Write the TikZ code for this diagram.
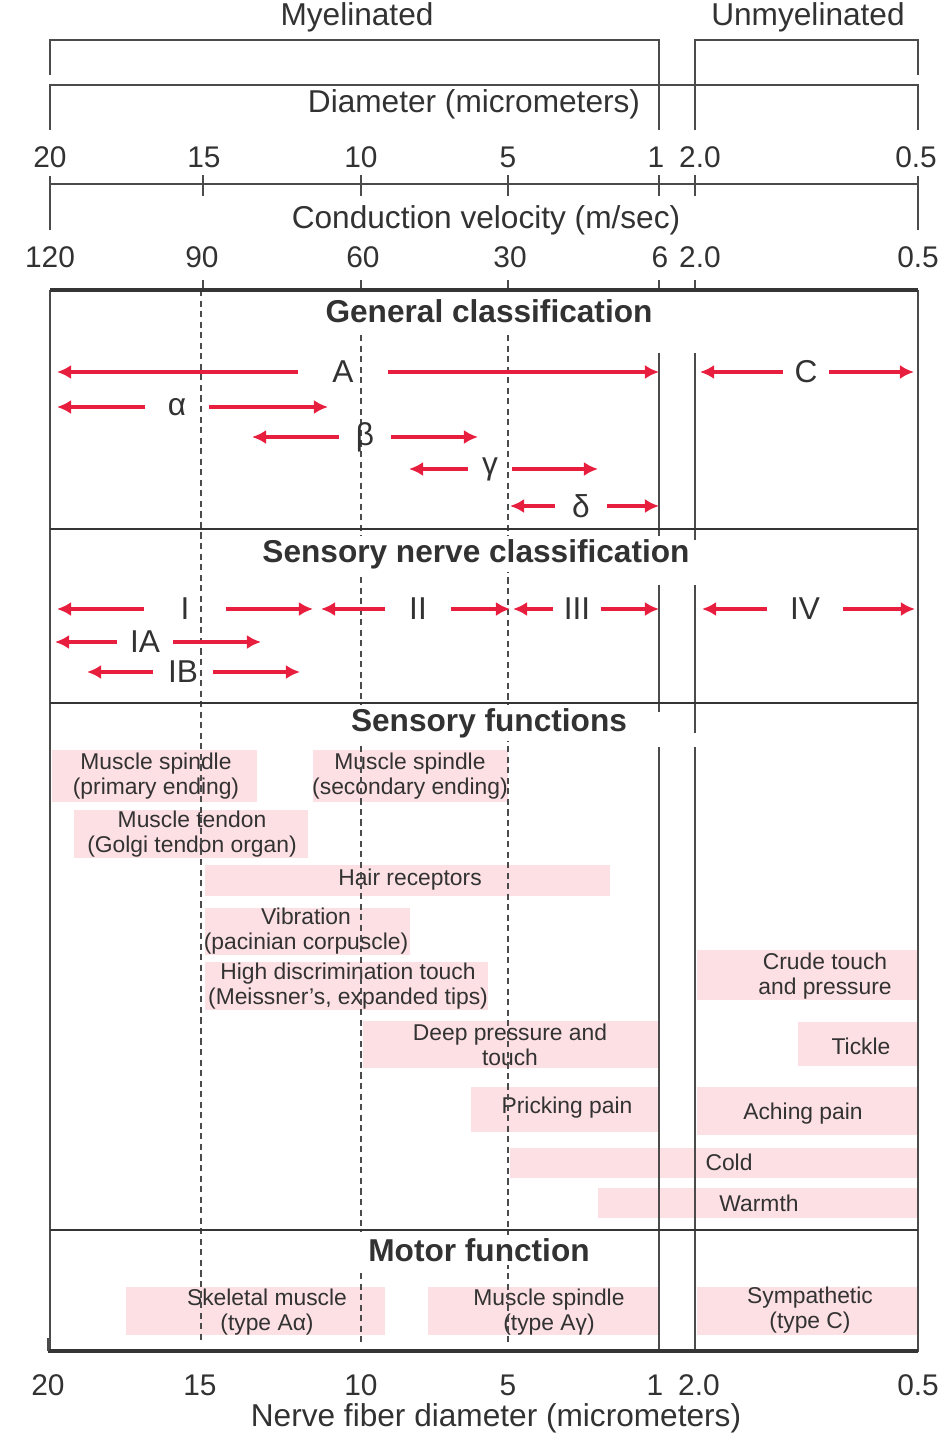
\documentclass[tikz,border=0pt]{standalone}
\usepackage{fontspec}
\setmainfont{Liberation Sans}
\usetikzlibrary{arrows.meta}

\definecolor{ink}{RGB}{50,50,50}
\definecolor{rulegray}{RGB}{75,75,75}
\definecolor{nerveRed}{RGB}{232,30,62}
\definecolor{pinkfill}{RGB}{252,224,228}

\tikzset{
  hdr/.style={text=ink, font=\fontsize{18}{20}\selectfont},
  num/.style={text=ink, font=\fontsize{17}{19}\selectfont},
  sectitle/.style={text=ink, fill=white, inner sep=2pt, font=\bfseries\fontsize{18}{20}\selectfont},
  fibre/.style={text=ink, inner sep=0pt, font=\fontsize{18}{20}\selectfont},
  func/.style={text=ink, align=center, inner sep=0pt, font=\fontsize{13}{14.2}\selectfont},
  pinkbar/.style={fill=pinkfill},
  redarrow/.style={draw=nerveRed, line width=2pt, -{Latex[length=8pt,width=8pt]}},
  fence/.style={draw=rulegray, line width=0.8pt},
  divider/.style={draw=rulegray!70!black, line width=1.4pt},
  guide/.style={draw=rulegray, line width=0.7pt, dash pattern=on 3.5pt off 2.5pt},
}

\begin{document}
\begin{tikzpicture}[x=0.02cm, y=-0.02cm]
\useasboundingbox (0,0) rectangle (948,1440);

% header brackets
\node[hdr] (myel) at (357,17) {Myelinated};
\node[hdr] (unmyel) at (808,17) {Unmyelinated};
\draw[fence] (50,75) -- (50,40) -- (659,40) -- (659,130);
\draw[fence] (695,130) -- (695,40) -- (918,40) -- (918,75);
\draw[fence] (50,130) -- (50,85) -- (918,85) -- (918,130);
\node[hdr] (diam) at (474,104) {Diameter (micrometers)};

% diameter scale
\node[num] (d20) at (50,157) {20};
\node[num] (d15) at (204,157) {15};
\node[num] (d10) at (361,157) {10};
\node[num] (d5) at (508,157) {5};
\node[num] (d1) at (656,157) {1};
\node[num] (d2) at (700,157) {2.0};
\node[num] (d05) at (916,157) {0.5};
\draw[fence] (50,184) -- (918,184);
\draw[fence] (50,176) -- (50,230);
\draw[fence] (918,176) -- (918,230);
\draw[fence] (203,175) -- (203,196);
\draw[fence] (361,175) -- (361,196);
\draw[fence] (508,175) -- (508,196);
\draw[fence] (659,175) -- (659,196);
\draw[fence] (695,175) -- (695,196);

% velocity scale
\node[hdr] (velo) at (486,220) {Conduction velocity (m/sec)};
\node[num] (v120) at (50,257) {120};
\node[num] (v90) at (202,257) {90};
\node[num] (v60) at (363,257) {60};
\node[num] (v30) at (510,257) {30};
\node[num] (v6) at (660,257) {6};
\node[num] (v2) at (700,257) {2.0};
\node[num] (v05) at (918,257) {0.5};
\draw[fence] (203,280) -- (203,290);
\draw[fence] (361,280) -- (361,290);
\draw[fence] (508,280) -- (508,290);
\draw[fence] (659,280) -- (659,290);
\draw[fence] (695,280) -- (695,290);

% pink bars
\fill[pinkbar] (52,750) rectangle (257,802);
\fill[pinkbar] (313,750) rectangle (508,802);
\fill[pinkbar] (74,810) rectangle (308,858);
\fill[pinkbar] (205,865) rectangle (610,896);
\fill[pinkbar] (205,908) rectangle (410,955);
\fill[pinkbar] (205,962) rectangle (488,1010);
\fill[pinkbar] (363,1021) rectangle (658,1068);
\fill[pinkbar] (471,1087) rectangle (658,1132);
\fill[pinkbar] (697,950) rectangle (918,1000);
\fill[pinkbar] (798,1022) rectangle (918,1066);
\fill[pinkbar] (697,1087) rectangle (918,1135);
\fill[pinkbar] (510,1148) rectangle (918,1178);
\fill[pinkbar] (598,1188) rectangle (918,1218);
\fill[pinkbar] (126,1287) rectangle (385,1335);
\fill[pinkbar] (428,1287) rectangle (658,1335);
\fill[pinkbar] (697,1287) rectangle (918,1335);

\node[func] (spindleP) at (156,776) {Muscle spindle\\(primary ending)};
\node[func] (spindleS) at (410,776) {Muscle spindle\\(secondary ending)};
\node[func] (tendon) at (192,834) {Muscle tendon\\(Golgi tendon organ)};
\node[func] (hair) at (410,880) {Hair receptors};
\node[func] (vibr) at (306,931) {Vibration\\(pacinian corpuscle)};
\node[func] (meiss) at (348,986) {High discrimination touch\\(Meissner's, expanded tips)};
\node[func] (deep) at (510,1045) {Deep pressure and\\touch};
\node[func] (prick) at (567,1108) {Pricking pain};
\node[func] (crude) at (825,976) {Crude touch\\and pressure};
\node[func] (tickle) at (861,1046) {Tickle};
\node[func] (ache) at (803,1114) {Aching pain};
\node[func] (cold) at (729,1162) {Cold};
\node[func] (warm) at (759,1203) {Warmth};
\node[func] (skel) at (267,1312) {Skeletal muscle\\(type Aα)};
\node[func] (spindleM) at (549,1312) {Muscle spindle\\(type Aγ)};
\node[func] (symp) at (810,1310) {Sympathetic\\(type C)};

% guides
\draw[guide] (201,290) -- (201,1342);
\draw[guide] (361,335) -- (361,537);
\draw[guide] (361,577) -- (361,1232);
\draw[guide] (361,1273) -- (361,1342);
\draw[guide] (508,335) -- (508,1342);
\draw[fence] (659,353) -- (659,540);
\draw[fence] (659,585) -- (659,712);
\draw[fence] (659,747) -- (659,1352);
\draw[fence] (695,353) -- (695,540);
\draw[fence] (695,585) -- (695,733);
\draw[fence] (695,747) -- (695,1352);

% main frame
\draw[fence] (50,290) -- (50,1352);
\draw[fence] (918,290) -- (918,1352);
\draw[divider, line width=1.8pt] (50,290) -- (918,290);
\draw[divider] (50,529) -- (918,529);
\draw[divider] (50,703) -- (918,703);
\draw[divider] (50,1230) -- (918,1230);
\draw[divider, line width=1.9pt] (48,1351) -- (918,1351);
\draw[fence] (48,1338) -- (48,1351);

\node[sectitle] (genT) at (489,311) {General classification};
\node[sectitle] (sensT) at (476,554) {Sensory nerve classification};
\node[sectitle] (funcT) at (489,723) {Sensory functions};
\node[sectitle] (motT) at (479,1250) {Motor function};

% general classification
\node[fibre, minimum width=1.8cm] (A) at (343,372) {A};
\coordinate (A-l) at (57,372);
\coordinate (A-r) at (659,372);
\draw[redarrow] (A.west) -- (A-l);
\draw[redarrow] (A.east) -- (A-r);

\node[fibre, minimum width=0.9cm] (C) at (806,372) {C};
\coordinate (C-l) at (700,372);
\coordinate (C-r) at (914,372);
\draw[redarrow] (C.west) -- (C-l);
\draw[redarrow] (C.east) -- (C-r);

\node[fibre, minimum width=1.26cm] (alpha) at (177,407) {α};
\coordinate (alpha-l) at (57,407);
\coordinate (alpha-r) at (328,407);
\draw[redarrow] (alpha.west) -- (alpha-l);
\draw[redarrow] (alpha.east) -- (alpha-r);

\node[fibre, minimum width=1.02cm] (beta) at (365,437) {β};
\coordinate (beta-l) at (252,437);
\coordinate (beta-r) at (478,437);
\draw[redarrow] (beta.west) -- (beta-l);
\draw[redarrow] (beta.east) -- (beta-r);

\node[fibre, minimum width=0.88cm] (gamma) at (490,469) {γ};
\coordinate (gamma-l) at (409,469);
\coordinate (gamma-r) at (598,469);
\draw[redarrow] (gamma.west) -- (gamma-l);
\draw[redarrow] (gamma.east) -- (gamma-r);

\node[fibre, minimum width=1.02cm] (delta) at (581,506) {δ};
\coordinate (delta-l) at (510,506);
\coordinate (delta-r) at (659,506);
\draw[redarrow] (delta.west) -- (delta-l);
\draw[redarrow] (delta.east) -- (delta-r);

% sensory nerve classification
\node[fibre, minimum width=1.62cm] (gI) at (185,609) {I};
\coordinate (gI-l) at (57,609);
\coordinate (gI-r) at (313,609);
\draw[redarrow] (gI.west) -- (gI-l);
\draw[redarrow] (gI.east) -- (gI-r);

\node[fibre, minimum width=1.3cm] (gII) at (418,609) {II};
\coordinate (gII-l) at (321,609);
\coordinate (gII-r) at (510,609);
\draw[redarrow] (gII.west) -- (gII-l);
\draw[redarrow] (gII.east) -- (gII-r);

\node[fibre, minimum width=0.94cm] (gIII) at (577,609) {III};
\coordinate (gIII-l) at (513,609);
\coordinate (gIII-r) at (659,609);
\draw[redarrow] (gIII.west) -- (gIII-l);
\draw[redarrow] (gIII.east) -- (gIII-r);

\node[fibre, minimum width=1.5cm] (gIV) at (805,609) {IV};
\coordinate (gIV-l) at (702,609);
\coordinate (gIV-r) at (915,609);
\draw[redarrow] (gIV.west) -- (gIV-l);
\draw[redarrow] (gIV.east) -- (gIV-r);

\node[fibre, minimum width=1.1cm] (gIA) at (145,642) {IA};
\coordinate (gIA-l) at (55,642);
\coordinate (gIA-r) at (261,642);
\draw[redarrow] (gIA.west) -- (gIA-l);
\draw[redarrow] (gIA.east) -- (gIA-r);

\node[fibre, minimum width=1.2cm] (gIB) at (183,672) {IB};
\coordinate (gIB-l) at (87,672);
\coordinate (gIB-r) at (300,672);
\draw[redarrow] (gIB.west) -- (gIB-l);
\draw[redarrow] (gIB.east) -- (gIB-r);

% bottom scale
\node[num] (b20) at (48,1385) {20};
\node[num] (b15) at (200,1385) {15};
\node[num] (b10) at (361,1385) {10};
\node[num] (b5) at (508,1385) {5};
\node[num] (b1) at (655,1385) {1};
\node[num] (b2) at (699,1385) {2.0};
\node[num] (b05) at (918,1385) {0.5};
\node[hdr] (nfd) at (496,1418) {Nerve fiber diameter (micrometers)};

\end{tikzpicture}
\end{document}
